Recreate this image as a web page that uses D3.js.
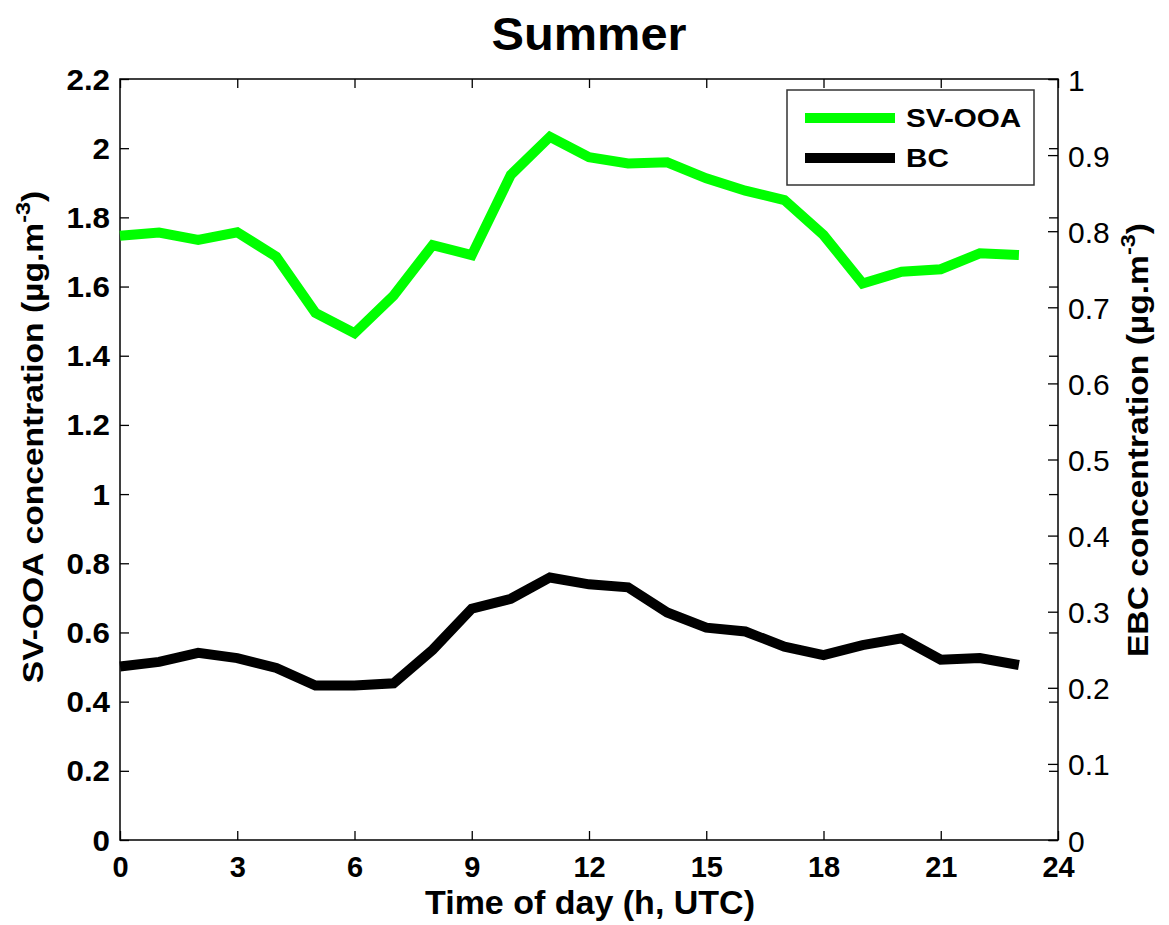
<!DOCTYPE html>
<html><head><meta charset="utf-8">
<script src="https://cdn.jsdelivr.net/npm/d3@7"></script>
<style>
body{margin:0;background:#fff}
svg{display:block}
text{font-family:"Liberation Sans",Arial,Helvetica,sans-serif;fill:#000}
</style>
</head><body>
<svg id="c" width="1169" height="925"></svg>
<script>
// ---- data ----
const hours = [0,1,2,3,4,5,6,7,8,9,10,11,12,13,14,15,16,17,18,19,20,21,22,23];
const svooa = [1.747,1.756,1.735,1.757,1.686,1.524,1.465,1.574,1.720,1.691,1.923,2.033,
               1.974,1.956,1.959,1.913,1.877,1.850,1.749,1.609,1.643,1.650,1.696,1.691];
const bc = [0.228,0.234,0.246,0.239,0.226,0.203,0.203,0.206,0.250,0.304,0.317,0.345,
            0.336,0.332,0.299,0.279,0.274,0.254,0.243,0.256,0.265,0.237,0.239,0.230];
const xTicks = [0,3,6,9,12,15,18,21,24];
const xTickLabels = ["0","3","6","9","12","15","18","21","24"];
const leftTicks = [0,0.2,0.4,0.6,0.8,1,1.2,1.4,1.6,1.8,2,2.2];
const leftTickLabels = ["0","0.2","0.4","0.6","0.8","1","1.2","1.4","1.6","1.8","2","2.2"];
const rightTicks = [0,0.1,0.2,0.3,0.4,0.5,0.6,0.7,0.8,0.9,1];
const rightTickLabels = ["0","0.1","0.2","0.3","0.4","0.5","0.6","0.7","0.8","0.9","1"];
const seriesNames = ["SV-OOA","BC"];
const seriesColors = ["#00ff00","#000000"];
const titleText = "Summer";
const xLabel = "Time of day (h, UTC)";
const yLeftLabel = "SV-OOA concentration (\u00b5g.m";
const yRightLabel = "EBC concentration (\u00b5g.m";

// ---- layout ----
const X0 = 120, X1 = 1058, Y0 = 79, Y1 = 840;
const svg = d3.select("#c");
const x = d3.scaleLinear().domain([0,24]).range([X0,X1]);
const yL = d3.scaleLinear().domain([0,2.2]).range([Y1,Y0]);
const yR = d3.scaleLinear().domain([0,1]).range([Y1,Y0]);

function cleanAxis(g){
  g.select(".domain").remove();
  g.selectAll(".tick line").attr("stroke","#000").attr("stroke-width",1.3);
}

// bottom axis
const gB = svg.append("g").attr("transform",`translate(0,${Y1})`)
  .call(d3.axisBottom(x).tickValues(xTicks).tickFormat((d,i)=>xTickLabels[i]).tickSizeInner(-9).tickSizeOuter(0));
cleanAxis(gB);
gB.selectAll(".tick text").attr("y",null).attr("dy",null)
  .attr("transform","translate(0,37)")
  .attr("font-size",29).attr("font-weight","bold").attr("font-family","Liberation Sans, Arial, sans-serif").attr("fill","#000");

// top ticks (mirror)
const gT = svg.append("g").attr("transform",`translate(0,${Y0})`)
  .call(d3.axisTop(x).tickValues(xTicks).tickFormat("").tickSizeInner(-9).tickSizeOuter(0));
cleanAxis(gT);

// left axis
const gL = svg.append("g").attr("transform",`translate(${X0},0)`)
  .call(d3.axisLeft(yL).tickValues(leftTicks).tickFormat((d,i)=>leftTickLabels[i]).tickSizeInner(-9).tickSizeOuter(0));
cleanAxis(gL);
gL.selectAll(".tick text").attr("x",null).attr("dy",null)
  .attr("text-anchor","end")
  .attr("transform","translate(-10,10) scale(1.08,1)")
  .attr("font-size",29).attr("font-weight","bold").attr("font-family","Liberation Sans, Arial, sans-serif").attr("fill","#000");

// left ticks mirrored on right
const gLR = svg.append("g").attr("transform",`translate(${X1},0)`)
  .call(d3.axisRight(yL).tickValues(leftTicks).tickFormat("").tickSizeInner(-9).tickSizeOuter(0));
cleanAxis(gLR);

// right axis
const gR = svg.append("g").attr("transform",`translate(${X1},0)`)
  .call(d3.axisRight(yR).tickValues(rightTicks).tickFormat((d,i)=>rightTickLabels[i]).tickSizeInner(-10).tickSizeOuter(0));
cleanAxis(gR);
gR.selectAll(".tick text").attr("x",null).attr("dy",null)
  .attr("text-anchor","start")
  .attr("transform","translate(10,11)")
  .attr("font-size",30).attr("font-weight","normal").attr("font-family","Liberation Sans, Arial, sans-serif").attr("fill","#000");

// frame
svg.append("rect").attr("x",X0).attr("y",Y0).attr("width",X1-X0).attr("height",Y1-Y0)
  .attr("fill","none").attr("stroke","#000").attr("stroke-width",1.5);

// lines
const lineL = d3.line().x((d,i)=>x(hours[i])).y(d=>yL(d));
const lineR = d3.line().x((d,i)=>x(hours[i])).y(d=>yR(d));
svg.append("path").datum(svooa).attr("d",lineL).attr("fill","none")
  .attr("stroke",seriesColors[0]).attr("stroke-width",10).attr("stroke-linejoin","miter").attr("stroke-linecap","butt");
svg.append("path").datum(bc).attr("d",lineR).attr("fill","none")
  .attr("stroke",seriesColors[1]).attr("stroke-width",10).attr("stroke-linejoin","miter").attr("stroke-linecap","butt");

// legend
const lg = svg.append("g");
lg.append("rect").attr("x",787).attr("y",90).attr("width",247).attr("height",95)
  .attr("fill","#fff").attr("stroke","#333").attr("stroke-width",1.5);
const rows = [118,158];
seriesNames.forEach((n,i)=>{
  lg.append("line").attr("x1",805).attr("x2",895).attr("y1",rows[i]).attr("y2",rows[i])
    .attr("stroke",seriesColors[i]).attr("stroke-width",10);
  lg.append("text").attr("transform",`translate(906,${rows[i]+9}) scale(1.14,1)`)
    .attr("font-size",26).attr("font-weight","bold").text(n);
});

// title
svg.append("text").attr("transform","translate(589,50) scale(1.06,1)")
  .attr("text-anchor","middle").attr("font-size",46).attr("font-weight","bold").text(titleText);

// x label
svg.append("text").attr("transform","translate(590,914)")
  .attr("text-anchor","middle").attr("font-size",34).attr("font-weight","bold").text(xLabel);

// y labels
function yLabel(tx,ty,str){
  const t = svg.append("text").attr("transform",`translate(${tx},${ty}) rotate(-90) scale(1.12,1)`)
    .attr("text-anchor","middle").attr("font-size",30).attr("font-weight","bold");
  t.append("tspan").text(str);
  t.append("tspan").attr("dy",-13).attr("font-size",21).text("-3");
  t.append("tspan").attr("dy",13).text(")");
}
yLabel(43,437,yLeftLabel);
yLabel(1148,440,yRightLabel);
</script>
</body></html>
